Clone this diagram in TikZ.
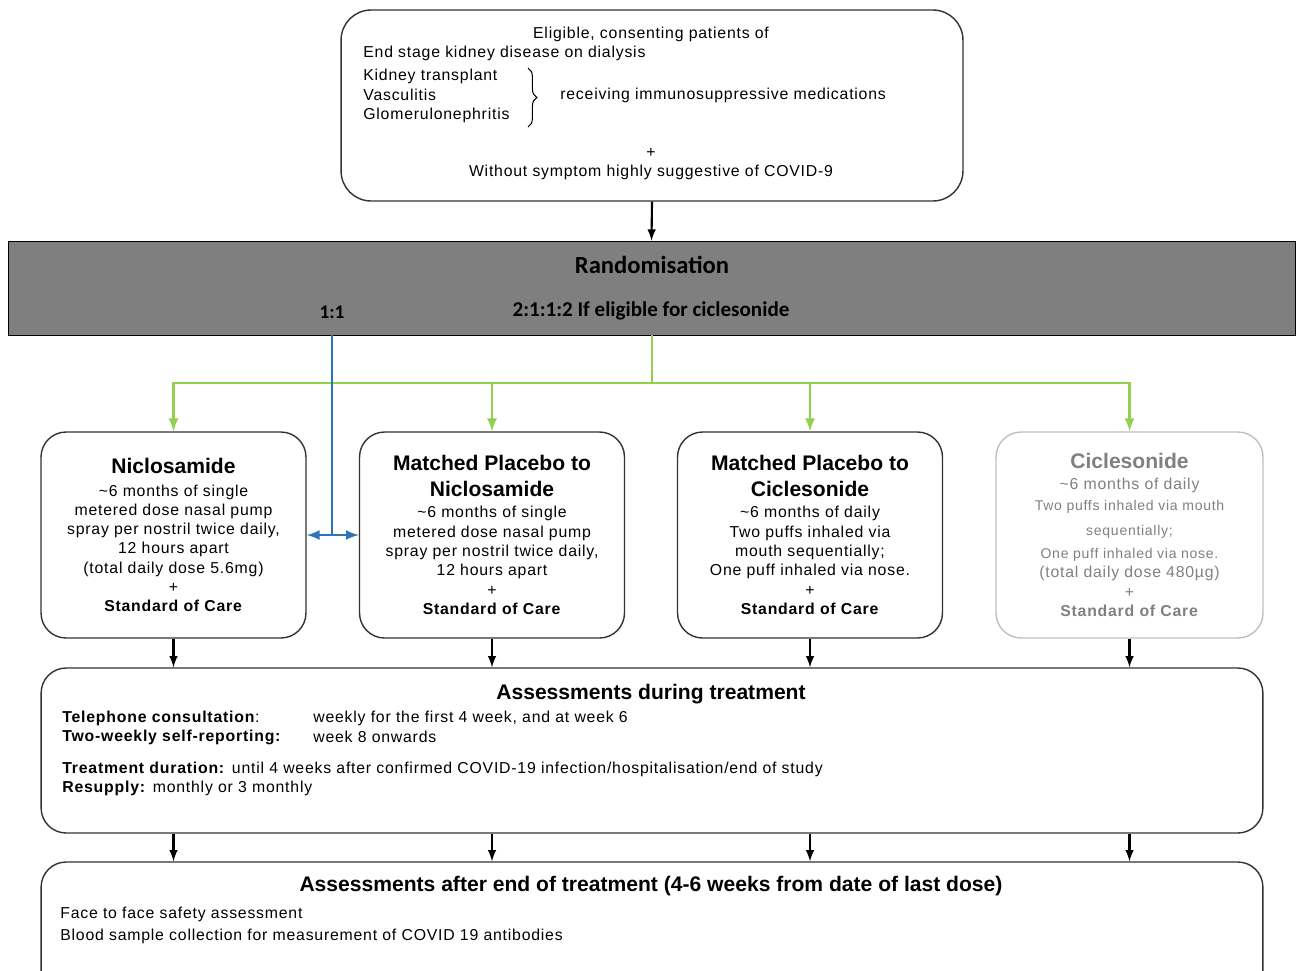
\documentclass[tikz,border=0pt]{standalone}
\usepackage{fontspec}
\setmainfont{Liberation Sans}[LetterSpace=5]
\newfontfamily\headfont{Liberation Sans}
\newfontfamily\calibri{Carlito}
\usepackage{tikz}
\usetikzlibrary{arrows.meta}
\usetikzlibrary{decorations.pathreplacing}
\definecolor{armgreen}{HTML}{92D050}
\definecolor{armblue}{HTML}{2E75B6}
\definecolor{randgrey}{HTML}{7F7F7F}
\colorlet{faded}{black!50}
\newcommand{\armtitle}[1]{{\headfont\fontsize{12}{14}\selectfont\bfseries #1}}

\begin{document}
\begin{tikzpicture}[x=0.02cm,y=-0.02cm,font=\fontsize{9}{11}\selectfont,
    box/.style={draw=black!80,line width=0.8pt,rounded corners=0.5cm},
    armbox/.style={box,minimum width=5.3cm,minimum height=4.12cm,align=center,inner sep=2pt},
    txt/.style={inner sep=0pt,anchor=west},
    head/.style={inner sep=0pt,font=\headfont\fontsize{12}{14}\selectfont\bfseries},
    arr/.style={line width=1.2pt,-latex},
    gline/.style={armgreen,line width=1.5pt},
    bline/.style={armblue,line width=1.5pt}]
\useasboundingbox (0,0) rectangle (1300,970);
\clip (0,0) rectangle (1300,970);

% eligibility
\node[box,rounded corners=0.6cm,minimum width=12.44cm,minimum height=3.82cm] (elig) at (652,105.5) {};
\node[inner sep=0pt] (eliga) at (651,34) {Eligible, consenting patients of};
\node[txt] (eligb) at (363,53) {End stage kidney disease on dialysis};
\node[txt] (kidney) at (363,76) {Kidney transplant};
\node[txt] (vasc) at (363,95) {Vasculitis};
\node[txt] (glom) at (363,115) {Glomerulonephritis};
\draw[line width=0.6pt,decorate,decoration={brace,amplitude=5pt}] (528,68) -- (528,127);
\node[txt] (immuno) at (560,95) {receiving immunosuppressive medications};
\node[inner sep=0pt] (eligplus) at (651,153) {+};
\node[inner sep=0pt] (eligc) at (651,172) {Without symptom highly suggestive of COVID-9};

% randomisation
\node[draw=black,fill=randgrey,minimum width=25.74cm,minimum height=1.88cm] (rand) at (651.5,288) {};
\node[font={\calibri\bfseries\fontsize{14}{16}\selectfont}] (randtitle) at (652,265) {Randomisation};
\node[font={\calibri\bfseries\fontsize{11}{13}\selectfont}] (ratioa) at (332,312) {1:1};
\node[font={\calibri\bfseries\fontsize{12}{14}\selectfont}] (ratiob) at (651,311) {2:1:1:2 If eligible for ciclesonide};
\draw[arr] (elig.south) -- (rand.north);

% arms
\node[armbox] (nic) at (173.5,535) {\armtitle{Niclosamide}\\[2pt]
  \textasciitilde6 months of single\\ metered dose nasal pump\\
  spray per nostril twice daily,\\ 12 hours apart\\ (total daily dose 5.6mg)\\ +\\
  \textbf{Standard of Care}};
\node[armbox] (plnic) at (492,535) {\armtitle{Matched Placebo to}\\[4pt] \armtitle{Niclosamide}\\[1pt]
  \textasciitilde6 months of single\\ metered dose nasal pump\\
  spray per nostril twice daily,\\ 12 hours apart\\ +\\
  \textbf{Standard of Care}};
\node[armbox] (plcic) at (810,535) {\armtitle{Matched Placebo to}\\[4pt] \armtitle{Ciclesonide}\\[1pt]
  \textasciitilde6 months of daily\\ Two puffs inhaled via\\
  mouth sequentially;\\ One puff inhaled via nose.\\ +\\
  \textbf{Standard of Care}};
\node[armbox,draw=black!25,text=faded,minimum width=5.34cm] (cic) at (1129.5,535) {\armtitle{Ciclesonide}\\[1pt]
  \textasciitilde6 months of daily\\[1pt] {\fontsize{8}{10}\selectfont Two puffs inhaled via mouth}\\[3pt]
  {\fontsize{8}{10}\selectfont sequentially;}\\[2pt] {\fontsize{8}{10}\selectfont One puff inhaled via nose.}\\
  (total daily dose 480µg)\\ +\\
  \textbf{Standard of Care}};

% randomisation lines
\coordinate (split) at (652,383);
\draw[gline] (rand.south -| split) -- (split);
\draw[gline,-latex] (split) -| (nic.north);
\draw[gline,-latex] (split) -| (plnic.north);
\draw[gline,-latex] (split) -| (plcic.north);
\draw[gline,-latex] (split) -| (cic.north);
\draw[bline] (ratioa |- rand.south) -- (ratioa |- nic.east);
\draw[bline,latex-latex] (nic.east) -- (plnic.west);

% assessments during treatment
\node[box,minimum width=24.44cm,minimum height=3.3cm] (during) at (652,750.5) {};
\node[head] (duringtitle) at (651,694) {Assessments during treatment};
\node[txt] (tel) at (62,718) {\textbf{Telephone consultation}:};
\node[txt] (telval) at (313,718) {weekly for the first 4 week, and at week 6};
\node[txt] (self) at (62,737) {\textbf{Two-weekly self-reporting:}};
\node[txt] (selfval) at (313,737) {week 8 onwards};
\node[txt] (dur) at (62,769) {\textbf{Treatment duration:} until 4 weeks after confirmed COVID-19 infection/hospitalisation/end of study};
\node[txt] (resup) at (62,788) {\textbf{Resupply:} monthly or 3 monthly};

% assessments after treatment
\node[box,minimum width=24.44cm,minimum height=2.8cm] (after) at (652,932) {};
\node[head] (aftertitle) at (651,886) {Assessments after end of treatment (4-6 weeks from date of last dose)};
\node[txt] (face) at (60,914) {Face to face safety assessment};
\node[txt] (blood) at (60,936) {Blood sample collection for measurement of COVID 19 antibodies};

\foreach \arm in {nic,plnic,plcic,cic}{
  \draw[arr] (\arm.south) -- (\arm.south |- during.north);
  \draw[arr] (\arm.south |- during.south) -- (\arm.south |- after.north);
}
\end{tikzpicture}
\end{document}
